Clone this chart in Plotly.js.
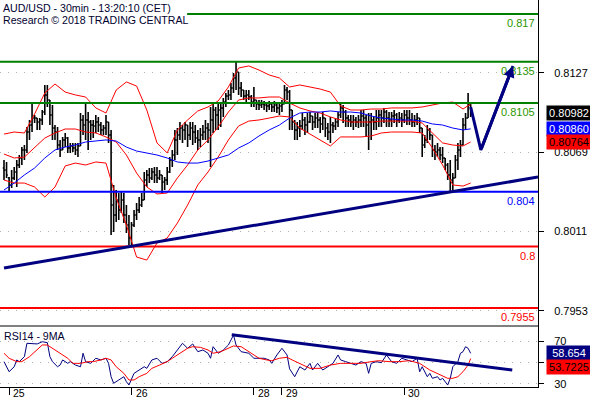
<!DOCTYPE html>
<html><head><meta charset="utf-8">
<script src="https://cdn.plot.ly/plotly-3.0.1.min.js"></script>
<style>html,body{margin:0;padding:0;background:#fff;}#chart{width:590px;height:400px;}</style>
</head><body><div id="chart"></div>
<script>
// ---- 30-min OHLC bars, AUD/USD (bar index 0 = first bar shown) ----
const opens = [0.80574,0.80559,0.80501,0.80450,0.80501,0.80545,0.80596,0.80647,0.80706,0.80706,
0.80837,0.80888,0.80939,0.80939,0.80910,0.80925,0.80983,0.81108,0.81071,0.80961,
0.80866,0.80837,0.80742,0.80706,0.80779,0.80793,0.80720,0.80735,0.80720,0.80706,
0.80735,0.80925,0.80888,0.80925,0.80910,0.80888,0.80881,0.80910,0.80888,0.80852,
0.80866,0.80910,0.80815,0.80303,0.80230,0.80340,0.80267,0.80340,0.80230,0.80157,
0.80062,0.80157,0.80230,0.80267,0.80303,0.80340,0.80486,0.80523,0.80501,0.80545,
0.80523,0.80501,0.80523,0.80472,0.80486,0.80545,0.80632,0.80669,0.80779,0.80815,
0.80866,0.80852,0.80888,0.80815,0.80866,0.80837,0.80793,0.80779,0.80815,0.80837,
0.80866,0.80852,0.80925,0.80998,0.80961,0.80998,0.81013,0.81056,0.81100,0.81108,
0.81159,0.81232,0.81276,0.81159,0.81144,0.81100,0.81108,0.81093,0.81056,0.81071,
0.81042,0.81034,0.81042,0.81034,0.81027,0.81042,0.81020,0.81034,0.81013,0.81027,
0.81042,0.81144,0.81129,0.80998,0.80910,0.80852,0.80866,0.80881,0.80925,0.80888,
0.80910,0.80954,0.80910,0.80939,0.80925,0.80896,0.80939,0.80866,0.80837,0.80888,
0.80881,0.80910,0.80961,0.81013,0.80983,0.80939,0.80925,0.80910,0.80925,0.80910,
0.80925,0.80954,0.80939,0.80888,0.80910,0.80925,0.80910,0.80939,0.80961,0.80939,
0.80983,0.80939,0.80925,0.80954,0.80961,0.80925,0.80939,0.80925,0.80961,0.80939,
0.80925,0.80910,0.80925,0.80939,0.80866,0.80742,0.80779,0.80852,0.80815,0.80706,
0.80691,0.80706,0.80669,0.80647,0.80596,0.80523,0.80486,0.80501,0.80632,0.80706,
0.80742,0.80888,0.80939,0.81034];
const highs = [0.80632,0.80618,0.80508,0.80559,0.80581,0.80632,0.80669,0.80727,0.80742,0.80874,
0.80925,0.81056,0.80961,0.80939,0.80939,0.80998,0.81181,0.81181,0.81071,0.81034,
0.80888,0.80874,0.80779,0.80801,0.80830,0.80801,0.80757,0.80757,0.80757,0.80757,
0.80976,0.80961,0.81056,0.80983,0.80925,0.80925,0.80961,0.80947,0.80910,0.80888,
0.80961,0.80910,0.80852,0.80450,0.80413,0.80391,0.80398,0.80391,0.80303,0.80230,
0.80179,0.80267,0.80318,0.80362,0.80391,0.80545,0.80559,0.80574,0.80574,0.80581,
0.80581,0.80559,0.80523,0.80508,0.80581,0.80654,0.80706,0.80852,0.80866,0.80910,
0.80888,0.80910,0.80888,0.80910,0.80910,0.80888,0.80852,0.80866,0.80888,0.80925,
0.80903,0.81020,0.81056,0.81020,0.81049,0.81049,0.81086,0.81122,0.81144,0.81195,
0.81268,0.81349,0.81276,0.81203,0.81144,0.81144,0.81144,0.81108,0.81166,0.81071,
0.81071,0.81071,0.81064,0.81056,0.81064,0.81056,0.81064,0.81049,0.81049,0.81071,
0.81181,0.81166,0.81144,0.80998,0.80925,0.80910,0.80925,0.80976,0.80947,0.80976,
0.80983,0.80954,0.80976,0.80976,0.80947,0.80983,0.80939,0.80903,0.80947,0.80910,
0.80939,0.80983,0.81056,0.81034,0.80998,0.80961,0.80961,0.80961,0.80947,0.80961,
0.80998,0.80998,0.80961,0.80976,0.80976,0.80947,0.80998,0.80998,0.80998,0.81013,
0.80998,0.80983,0.80983,0.80998,0.80976,0.80983,0.80976,0.80998,0.80998,0.80998,
0.80976,0.80961,0.80976,0.80939,0.80866,0.80815,0.80888,0.80866,0.80815,0.80742,
0.80757,0.80727,0.80727,0.80647,0.80610,0.80632,0.80537,0.80669,0.80757,0.80779,
0.80939,0.80976,0.81122,0.81056];
const lows = [0.80486,0.80501,0.80398,0.80428,0.80486,0.80435,0.80574,0.80596,0.80632,0.80684,
0.80779,0.80837,0.80903,0.80852,0.80852,0.80888,0.80961,0.81020,0.80888,0.80779,
0.80779,0.80706,0.80654,0.80706,0.80727,0.80684,0.80684,0.80691,0.80669,0.80654,
0.80735,0.80815,0.80779,0.80706,0.80779,0.80793,0.80830,0.80837,0.80815,0.80815,
0.80815,0.80757,0.80084,0.80106,0.80179,0.80194,0.80245,0.80172,0.80099,0.80011,
0.79996,0.80143,0.80194,0.80245,0.80289,0.80340,0.80435,0.80464,0.80486,0.80464,
0.80464,0.80486,0.80391,0.80413,0.80450,0.80537,0.80581,0.80632,0.80669,0.80779,
0.80757,0.80779,0.80727,0.80779,0.80742,0.80757,0.80706,0.80727,0.80779,0.80779,
0.80757,0.80581,0.80830,0.80852,0.80852,0.80874,0.80947,0.81020,0.81071,0.81071,
0.81122,0.81144,0.81108,0.81093,0.81071,0.81056,0.81071,0.81020,0.81020,0.80998,
0.80998,0.81013,0.80998,0.80983,0.80998,0.80983,0.80983,0.80976,0.80961,0.80983,
0.81042,0.81071,0.80852,0.80852,0.80779,0.80779,0.80801,0.80852,0.80815,0.80830,
0.80903,0.80852,0.80866,0.80866,0.80830,0.80852,0.80801,0.80779,0.80757,0.80830,
0.80852,0.80874,0.80939,0.80903,0.80874,0.80874,0.80874,0.80852,0.80874,0.80866,
0.80874,0.80874,0.80801,0.80706,0.80779,0.80852,0.80852,0.80874,0.80874,0.80903,
0.80874,0.80874,0.80874,0.80903,0.80874,0.80903,0.80874,0.80903,0.80888,0.80888,
0.80874,0.80874,0.80888,0.80830,0.80654,0.80720,0.80757,0.80779,0.80654,0.80632,
0.80654,0.80632,0.80610,0.80559,0.80486,0.80398,0.80413,0.80501,0.80559,0.80654,
0.80742,0.80852,0.80939,0.80947];
const closes = [0.80559,0.80523,0.80450,0.80501,0.80545,0.80596,0.80647,0.80706,0.80706,0.80837,
0.80888,0.80939,0.80939,0.80910,0.80925,0.80983,0.81108,0.81071,0.80961,0.80866,
0.80837,0.80742,0.80706,0.80779,0.80793,0.80720,0.80735,0.80720,0.80706,0.80735,
0.80925,0.80888,0.80925,0.80910,0.80888,0.80881,0.80910,0.80888,0.80852,0.80866,
0.80910,0.80815,0.80303,0.80230,0.80340,0.80267,0.80340,0.80230,0.80157,0.80062,
0.80157,0.80230,0.80267,0.80303,0.80340,0.80486,0.80523,0.80501,0.80545,0.80523,
0.80501,0.80523,0.80472,0.80486,0.80545,0.80632,0.80669,0.80779,0.80815,0.80866,
0.80852,0.80888,0.80815,0.80866,0.80837,0.80793,0.80779,0.80815,0.80837,0.80866,
0.80852,0.80925,0.80998,0.80961,0.80998,0.81013,0.81056,0.81100,0.81108,0.81159,
0.81232,0.81276,0.81159,0.81144,0.81100,0.81108,0.81093,0.81056,0.81071,0.81042,
0.81034,0.81042,0.81034,0.81027,0.81042,0.81020,0.81034,0.81013,0.81027,0.81042,
0.81144,0.81129,0.80998,0.80910,0.80852,0.80866,0.80881,0.80925,0.80888,0.80910,
0.80954,0.80910,0.80939,0.80925,0.80896,0.80939,0.80866,0.80837,0.80888,0.80881,
0.80910,0.80961,0.81013,0.80983,0.80939,0.80925,0.80910,0.80925,0.80910,0.80925,
0.80954,0.80939,0.80888,0.80910,0.80925,0.80910,0.80939,0.80961,0.80939,0.80983,
0.80939,0.80925,0.80954,0.80961,0.80925,0.80939,0.80925,0.80961,0.80939,0.80925,
0.80910,0.80925,0.80939,0.80866,0.80742,0.80779,0.80852,0.80815,0.80706,0.80691,
0.80706,0.80669,0.80647,0.80596,0.80523,0.80486,0.80501,0.80632,0.80706,0.80742,
0.80888,0.80939,0.81034,0.80982];

// ---- indicators read at these bar indices ----
const sampleIdx = [0,4,8,12,16,20,24,28,32,36,40,44,48,52,56,60,64,68,72,76,80,84,88,92,96,100,104,108,112,116,120,124,128,132,136,140,144,148,152,156,160,164,168,172,176,180,183];
const bbUpper = [0.80822,0.80837,0.80830,0.80969,0.81122,0.81188,0.81129,0.81108,0.81093,0.81013,0.80976,0.81144,0.81203,0.81173,0.80998,0.80757,0.80684,0.80852,0.80925,0.80991,0.81020,0.81064,0.81166,0.81305,0.81320,0.81290,0.81254,0.81232,0.81166,0.81181,0.81166,0.81151,0.81129,0.81027,0.80998,0.80998,0.81005,0.81005,0.81013,0.81013,0.81013,0.81020,0.81034,0.81049,0.81056,0.81005,0.81042];
const bbMiddle = [0.80676,0.80647,0.80654,0.80727,0.80793,0.80830,0.80859,0.80859,0.80837,0.80830,0.80801,0.80764,0.80669,0.80537,0.80435,0.80384,0.80391,0.80501,0.80596,0.80706,0.80779,0.80874,0.80983,0.81071,0.81086,0.81086,0.81093,0.81093,0.81049,0.81013,0.80991,0.80976,0.80947,0.80925,0.80910,0.80910,0.80910,0.80917,0.80917,0.80917,0.80917,0.80903,0.80830,0.80757,0.80742,0.80735,0.80764];
const bbLower = [0.80486,0.80464,0.80464,0.80435,0.80362,0.80435,0.80589,0.80610,0.80596,0.80618,0.80610,0.80355,0.80157,0.79923,0.79901,0.80026,0.80062,0.80172,0.80303,0.80450,0.80545,0.80654,0.80779,0.80881,0.80917,0.80925,0.80939,0.80954,0.80947,0.80866,0.80822,0.80779,0.80735,0.80801,0.80801,0.80801,0.80808,0.80830,0.80837,0.80837,0.80837,0.80830,0.80720,0.80596,0.80450,0.80442,0.80464];
const maBlue = [0.80413,0.80464,0.80523,0.80574,0.80647,0.80706,0.80727,0.80742,0.80764,0.80771,0.80779,0.80771,0.80727,0.80698,0.80684,0.80669,0.80647,0.80618,0.80610,0.80610,0.80625,0.80647,0.80669,0.80720,0.80757,0.80808,0.80852,0.80888,0.80939,0.80976,0.80983,0.80983,0.80991,0.80983,0.80983,0.80976,0.80954,0.80939,0.80932,0.80925,0.80925,0.80917,0.80896,0.80888,0.80866,0.80852,0.80860];

// ---- RSI14 and its 9-period MA ----
const rsiIdx = [0,2,4,5,6,8,9,11,13,15,17,18,19,21,22,23,25,26,28,30,31,32,34,36,38,40,41,42,43,45,47,48,49,51,53,55,56,58,60,62,64,66,68,70,72,74,76,78,80,81,82,84,86,88,90,91,93,96,98,102,104,105,107,109,111,112,114,116,118,120,121,123,125,127,129,131,132,134,136,138,140,142,143,144,146,148,150,152,154,156,158,160,162,163,164,166,167,168,170,171,172,174,175,176,178,179,180,181,182,183];
const rsiVal = [50.8,41.3,46.0,52.4,50.8,55.5,68.1,68.1,67.5,69.6,68.7,55.5,50.8,46.0,47.6,52.4,49.2,50.8,47.6,46.0,58.7,50.8,49.2,54.0,52.4,54.0,49.2,36.6,30.4,33.5,36.6,31.9,28.8,39.8,42.9,46.0,44.5,52.4,54.0,49.2,50.8,55.5,61.8,68.1,63.4,67.5,60.2,61.8,58.7,54.0,64.9,58.7,61.8,66.5,75.9,66.5,60.2,58.7,54.0,54.0,52.4,49.2,57.1,63.4,57.1,44.0,36.6,46.0,42.9,49.2,42.9,49.2,42.9,46.0,49.2,57.1,52.4,50.8,49.2,47.6,50.8,49.2,39.8,49.2,50.8,49.8,57.1,50.8,49.2,54.0,52.4,50.8,54.0,41.3,46.0,36.6,39.8,35.1,36.6,33.5,35.1,28.8,35.1,46.0,50.8,58.7,60.2,64.9,63.4,58.654];
const rsiMaIdx = [0,2,5,7,10,13,15,17,19,22,25,27,30,33,35,38,40,42,44,47,49,51,53,56,58,61,64,66,69,72,74,77,80,82,85,87,90,93,95,98,100,103,105,108,111,113,116,120,124,128,132,136,140,144,147,151,155,159,163,167,171,174,176,178,180,182,183];
const rsiMaVal = [58.7,54.0,50.8,50.8,55.5,61.8,66.5,66.5,63.4,58.7,54.0,49.2,49.2,50.8,50.8,52.4,54.0,52.4,46.0,39.8,33.5,33.5,36.6,39.8,44.5,47.6,50.8,54.0,58.7,63.4,64.9,64.3,61.8,58.7,60.2,62.5,65.6,64.9,61.8,57.1,54.0,52.4,51.7,54.0,54.9,52.4,49.0,44.5,44.5,47.6,49.2,49.2,49.2,50.8,51.7,50.8,50.8,51.7,49.2,42.9,38.2,35.1,35.1,36.6,41.3,47.6,53.7225];

// ---- levels, trendlines, projection ----
const levelValues = [0.817, 0.8135, 0.8105, 0.804, 0.8, 0.7955];
const levelLabels = ['0.817', '0.8135', '0.8105', '0.804', '0.8', '0.7955'];
const levelColors = ['#008000', '#008000', '#008000', '#0000ff', '#ff0000', '#ff0000'];
const levelTextColors = ['#2b9600', '#2b9600', '#2b9600', '#0000ff', '#ff0000', '#ff0000'];
const trendIdx = [0, 209.41];
const trendVal = [0.79843, 0.80508];
const projIdx = [183, 187, 199.6];
const projVal = [0.8102, 0.80706, 0.8132];
const rsiTrendIdx = [89.3, 199.3];
const rsiTrendVal = [76.2, 42.9];

// ---- axis ticks ----
const priceTicks = [0.7953, 0.8011, 0.8069, 0.8127];
const priceTickText = ['0.7953', '0.8011', '0.8069', '0.8127'];
const rsiTicks = [30, 50, 70];
const rsiTickText = ['30', '', '70'];
const dayLabels = ['25', '26', '28', '29', '30'];
const dayStart = [2, 50, 98, 109, 157];

// ---- last values shown in badges ----
const lastClose = 0.80982, lastMA = 0.80860, lastMid = 0.80764;
const lastRsi = 58.654, lastRsiMa = 53.7225;

const FONT = 'Liberation Sans, Arial, sans-serif';
const XR = [-1.57, 209.41];
const barIdx = opens.map((_, i) => i);

const traces = [
  {type:'scatter', mode:'lines', x:sampleIdx, y:bbUpper, line:{color:'#ff0000', width:1}, hoverinfo:'skip'},
  {type:'scatter', mode:'lines', x:sampleIdx, y:bbMiddle, line:{color:'#ff0000', width:1}, hoverinfo:'skip'},
  {type:'scatter', mode:'lines', x:sampleIdx, y:bbLower, line:{color:'#ff0000', width:1}, hoverinfo:'skip'},
  {type:'scatter', mode:'lines', x:sampleIdx, y:maBlue, line:{color:'#0000ff', width:1}, hoverinfo:'skip'},
  {type:'ohlc', x:barIdx, open:opens, high:highs, low:lows, close:closes, tickwidth:0.5,
   increasing:{line:{color:'#000', width:1.6}}, decreasing:{line:{color:'#000', width:1.6}}, hoverinfo:'skip'},
  {type:'scatter', mode:'lines', x:projIdx, y:projVal, line:{color:'#000080', width:3}, hoverinfo:'skip'},
  {type:'scatter', mode:'markers', x:[211.3], y:[lastClose], cliponaxis:false,
   marker:{symbol:'triangle-left', size:12, color:'#000'}, hoverinfo:'skip'},
  {type:'scatter', mode:'lines', x:rsiIdx, y:rsiVal, xaxis:'x', yaxis:'y2', line:{color:'#000080', width:1}, hoverinfo:'skip'},
  {type:'scatter', mode:'lines', x:rsiMaIdx, y:rsiMaVal, xaxis:'x', yaxis:'y2', line:{color:'#ff0000', width:1}, hoverinfo:'skip'},
  {type:'scatter', mode:'lines', x:rsiTrendIdx, y:rsiTrendVal, xaxis:'x', yaxis:'y2', line:{color:'#000080', width:3}, hoverinfo:'skip'},
  {type:'scatter', mode:'markers', x:[211.3], y:[lastRsi], xaxis:'x', yaxis:'y2', cliponaxis:false,
   marker:{symbol:'triangle-left', size:12, color:'#000080'}, hoverinfo:'skip'}
];

const shapes = [];
levelValues.forEach((v, k) => {
  shapes.push({type:'line', xref:'x', yref:'y', x0:(k === 0 ? 71.8 : XR[0]), x1:XR[1], y0:v, y1:v,
               line:{color:levelColors[k], width:2}, layer:'above'});
});
shapes.push({type:'line', xref:'x', yref:'y', x0:trendIdx[0], x1:trendIdx[1], y0:trendVal[0], y1:trendVal[1],
             line:{color:'#000080', width:3}, layer:'above'});
shapes.push({type:'line', xref:'paper', yref:'paper', x0:0, x1:1, y0:0.1576, y1:0.1576, line:{color:'#000', width:1}});

const annotations = [];
annotations.push({xref:'paper', yref:'paper', x:0, y:1, xanchor:'left', yanchor:'top', xshift:1, yshift:0, showarrow:false,
  text:'AUD/USD - 30min - 13:20:10 (CET)', font:{family:FONT, size:10.6, color:'#000030'}});
annotations.push({xref:'paper', yref:'paper', x:0, y:1, xanchor:'left', yanchor:'top', xshift:1, yshift:-12, showarrow:false,
  text:'Research © 2018 TRADING CENTRAL', font:{family:FONT, size:10.6, color:'#000030'}});
levelValues.forEach((v, k) => {
  annotations.push({xref:'paper', yref:'y', x:1, y:v, xanchor:'right', yanchor:'top', xshift:-1, yshift:-1, showarrow:false,
    text:levelLabels[k], font:{family:FONT, size:11, color:levelTextColors[k]}});
});
annotations.push({xref:'x', yref:'y', x:projIdx[2], y:projVal[2], axref:'x', ayref:'y', ax:projIdx[1], ay:projVal[1],
  showarrow:true, arrowhead:2, arrowsize:0.75, arrowwidth:3, arrowcolor:'#000080', standoff:0, text:''});
annotations.push({xref:'paper', yref:'paper', x:0, y:0.1576, xanchor:'left', yanchor:'top', xshift:2, yshift:-2, showarrow:false,
  text:'RSI14 - 9MA', font:{family:FONT, size:10.6, color:'#000030'}});
dayLabels.forEach((t, k) => {
  annotations.push({xref:'x', yref:'paper', x:dayStart[k], y:0, xanchor:'left', yanchor:'bottom', xshift:3, yshift:-13,
    showarrow:false, borderpad:0, text:t, font:{family:FONT, size:10.5, color:'#000'}});
});
function badge(yref, val, txt, bg, fg, dy) {
  annotations.push({xref:'paper', yref:yref, x:1, y:val, xanchor:'left', yanchor:'middle', xshift:8, yshift:dy, showarrow:false,
    text:txt, bgcolor:bg, borderpad:1, width:42, height:12, align:'center', font:{family:FONT, size:11, color:fg}});
}
badge('y', lastClose, '0.80982', '#000', '#fff', -1);
badge('y', lastMA, '0.80860', '#0000ff', '#fff', 0);
badge('y', lastMid, '0.80764', '#ff0000', '#000', 0);
badge('y2', lastRsi, '58.654', '#000080', '#fff', 0);
badge('y2', lastRsiMa, '53.7225', '#ff0000', '#000', -8);

const layout = {
  width:590, height:400, margin:{l:0, r:52, t:0, b:13},
  paper_bgcolor:'#fff', plot_bgcolor:'#fff', showlegend:false, hovermode:false, dragmode:false,
  font:{family:FONT, size:11, color:'#000'},
  xaxis:{range:XR, anchor:'y2', showgrid:false, zeroline:false, showline:true, linecolor:'#000', linewidth:1,
         ticks:'outside', ticklen:7, tickcolor:'#000', tickvals:dayStart, showticklabels:false,
         rangeslider:{visible:false}, fixedrange:true},
  yaxis:{domain:[0.1576, 1], range:[0.79419, 0.81802], side:'right', anchor:'x', showline:true, linecolor:'#000', linewidth:1,
         ticks:'outside', ticklen:5, tickcolor:'#000', tickvals:priceTicks, ticktext:priceTickText,
         ticklabelstandoff:8, tickfont:{family:FONT, size:11, color:'#000'},
         showgrid:true, gridcolor:'#b0b0b0', gridwidth:1, griddash:'1px,7px', zeroline:false, fixedrange:true},
  yaxis2:{domain:[0, 0.1576], range:[26.9, 84.4], side:'right', anchor:'x', showline:true, linecolor:'#000', linewidth:1,
         ticks:'outside', ticklen:5, tickcolor:'#000', tickvals:rsiTicks, ticktext:rsiTickText,
         ticklabelstandoff:8, tickfont:{family:FONT, size:11, color:'#000'},
         showgrid:true, gridcolor:'#b0b0b0', gridwidth:1, griddash:'1px,7px', zeroline:false, fixedrange:true},
  shapes:shapes, annotations:annotations
};
Plotly.newPlot('chart', traces, layout, {displayModeBar:false, staticPlot:true});
</script></body></html>
